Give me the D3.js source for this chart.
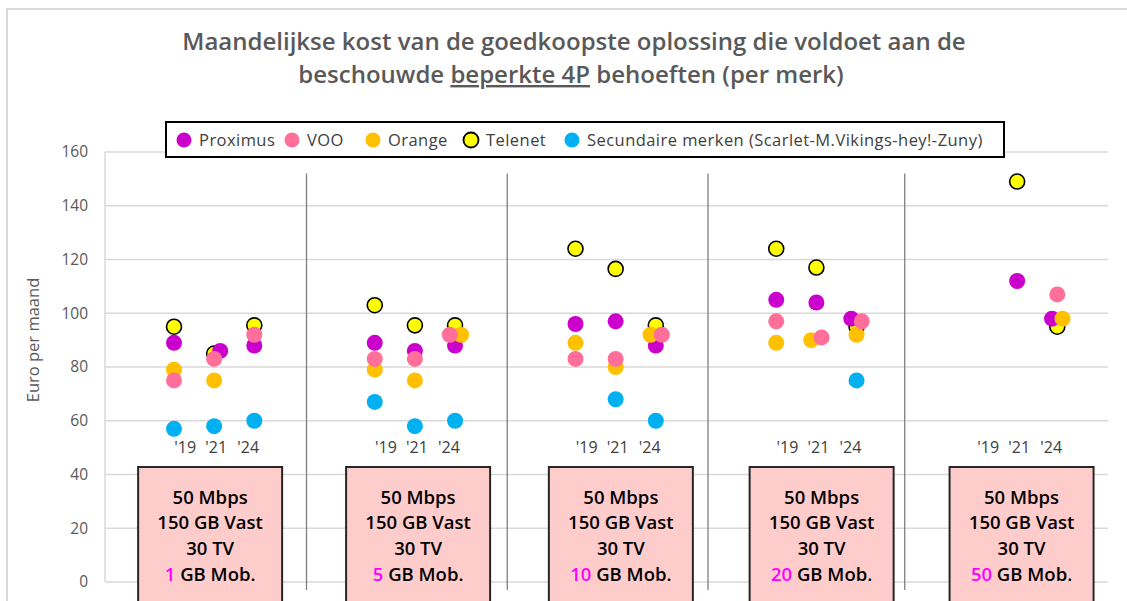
<!DOCTYPE html>
<html>
<head>
<meta charset="utf-8">
<script src="https://cdn.jsdelivr.net/npm/d3@7"></script>
<style>
  body { margin: 0; background: #fff; }
  svg { display: block; font-family: "Open Sans", Lato, sans-serif; }
</style>
</head>
<body>
<svg id="chart" width="1127" height="601"></svg>
<script>
// groups (mobile data volume) and years
var groups = ["1", "5", "10", "20", "50"];
var years = ["'19", "'21", "'24"];
var yTicks = [0, 20, 40, 60, 80, 100, 120, 140, 160];

// each point: [slot, value]; slot = 5*group + yearIndex (small fraction = offset as in the source)
var telenet = [[0, 95], [1, 85], [2, 95.5], [5, 103], [6, 95.5], [7, 95.5], [10, 124], [11, 116.5], [12, 95.5], [15, 124], [16, 117], [17, 95], [21, 149], [22, 95]];
var proximus = [[0, 89], [1.15, 86], [2, 88], [5, 89], [6, 86], [7, 88], [10, 96], [11, 97], [12, 88], [15, 105], [16, 104], [16.87, 98], [21, 112], [21.87, 98]];
var orange = [[0, 79], [1, 75], [5, 79], [6, 75], [7.15, 92], [10, 89], [11, 80], [11.87, 92], [15, 89], [15.87, 90], [17, 92], [22.13, 98]];
var voo = [[0, 75], [1, 83], [2, 92], [5, 83], [6, 83], [6.87, 92], [10, 83], [11, 83], [12.15, 92], [15, 97], [16.13, 91], [17.13, 97], [22, 107]];
var secundaire = [[0, 57], [1, 58], [2, 60], [5, 67], [6, 58], [7, 60], [11, 68], [12, 60], [17, 75]];

var series = [
  { name: "Proximus", color: "#CC00CC", data: proximus, stroke: false },
  { name: "VOO", color: "#FF6F99", data: voo, stroke: false },
  { name: "Orange", color: "#FFC000", data: orange, stroke: false },
  { name: "Telenet", color: "#FFFF00", data: telenet, stroke: true },
  { name: "Secundaire merken (Scarlet-M.Vikings-hey!-Zuny)", color: "#00B0F0", data: secundaire, stroke: false }
];
// drawing order (bottom to top)
var drawOrder = ["Telenet", "Proximus", "Orange", "VOO", "Secundaire merken (Scarlet-M.Vikings-hey!-Zuny)"];
var sepSlots = [3.3, 8.3, 13.3, 18.2];
var boxSlots = [0.9, 6.08, 11.13, 16.13, 21.11];

var svg = d3.select("#chart");
var plotLeft = 105, plotRight = 1108;

var x = d3.scaleLinear().domain([0, 22]).range([174, 174 + 22 * 40.15]);
var y = d3.scaleLinear().domain([0, 160]).range([582, 152]);

// outer frame
svg.append("rect").attr("x", 7).attr("y", 9).attr("width", 1140).attr("height", 620)
  .attr("fill", "none").attr("stroke", "#d9d9d9").attr("stroke-width", 2);

// title
var title = svg.append("text").attr("text-anchor", "middle").attr("fill", "#595959")
  .attr("font-size", 24).attr("font-weight", 600);
title.append("tspan").attr("x", 574).attr("y", 50)
  .text("Maandelijkse kost van de goedkoopste oplossing die voldoet aan de");
var t2 = title.append("tspan").attr("x", 571).attr("y", 83);
t2.append("tspan").text("beschouwde ");
t2.append("tspan").attr("text-decoration", "underline").text("beperkte 4P");
t2.append("tspan").text(" behoeften (per merk)");

// gridlines
svg.append("g").selectAll("line").data(yTicks).join("line")
  .attr("x1", plotLeft).attr("x2", plotRight)
  .attr("y1", function (d) { return y(d); }).attr("y2", function (d) { return y(d); })
  .attr("stroke", "#d9d9d9").attr("stroke-width", 1.5);
svg.append("line").attr("x1", plotLeft).attr("x2", plotLeft).attr("y1", y(160)).attr("y2", y(0))
  .attr("stroke", "#d9d9d9").attr("stroke-width", 1.5);

// y axis
var yAxis = svg.append("g").attr("transform", "translate(" + plotLeft + ",0)")
  .call(d3.axisLeft(y).tickValues(yTicks).tickSize(0).tickPadding(17));
yAxis.select(".domain").remove();
yAxis.selectAll("text").attr("font-size", 15.5).attr("fill", "#595959")
  .attr("font-family", "'Open Sans', Lato, sans-serif");

svg.append("text").attr("transform", "translate(39,340) rotate(-90)")
  .attr("text-anchor", "middle").attr("font-size", 16.5).attr("fill", "#595959")
  .text("Euro per maand");

// separators
svg.append("g").selectAll("line").data(sepSlots).join("line")
  .attr("x1", function (d) { return x(d); }).attr("x2", function (d) { return x(d); })
  .attr("y1", y(152)).attr("y2", y(-3))
  .attr("stroke", "#7f7f7f").attr("stroke-width", 1.3);

// year labels
var yearOffsets = [-31, 0, 32];
groups.forEach(function (g, gi) {
  svg.append("g").selectAll("text").data(years).join("text")
    .attr("x", function (d, i) { return x(gi * 5 + 1) + 2 + yearOffsets[i]; })
    .attr("y", 453).attr("text-anchor", "middle")
    .attr("font-size", 16).attr("fill", "#404040")
    .text(function (d) { return d; });
});

// points
var byName = {};
series.forEach(function (s) { byName[s.name] = s; });
drawOrder.forEach(function (n) {
  var s = byName[n];
  svg.append("g").selectAll("circle").data(s.data).join("circle")
    .attr("cx", function (d) { return x(d[0]); })
    .attr("cy", function (d) { return y(d[1]); })
    .attr("r", s.stroke ? 7.5 : 8)
    .attr("fill", s.color)
    .attr("stroke", s.stroke ? "#000" : "none")
    .attr("stroke-width", 1.6);
});

// boxes
var boxW = 144;
var box = svg.append("g").selectAll("g").data(groups).join("g")
  .attr("transform", function (d, i) { return "translate(" + x(boxSlots[i]) + ",0)"; });
box.append("rect").attr("x", -boxW / 2).attr("y", 467).attr("width", boxW).attr("height", 160)
  .attr("fill", "#FFCCCC").attr("stroke", "#262626").attr("stroke-width", 2);
var bt = box.append("text").attr("text-anchor", "middle").attr("font-size", 18.5)
  .attr("font-weight", 600).attr("fill", "#000");
bt.append("tspan").attr("x", 0).attr("y", 504).text("50 Mbps");
bt.append("tspan").attr("x", 0).attr("y", 529).text("150 GB Vast");
bt.append("tspan").attr("x", 0).attr("y", 555).text("30 TV");
var last = bt.append("tspan").attr("x", 0).attr("y", 581);
last.append("tspan").attr("fill", "#FF00FF").text(function (d) { return d; });
last.append("tspan").text(" GB Mob.");

// legend
var lg = svg.append("g");
lg.append("rect").attr("x", 166).attr("y", 122).attr("width", 838).attr("height", 35)
  .attr("fill", "#fff").attr("stroke", "#000").attr("stroke-width", 2);
var legX = [184, 292, 373, 471, 572];
var item = lg.selectAll("g").data(series).join("g")
  .attr("transform", function (d, i) { return "translate(" + legX[i] + ",140)"; });
item.append("circle").attr("r", 7.5)
  .attr("fill", function (d) { return d.color; })
  .attr("stroke", function (d) { return d.stroke ? "#000" : "none"; })
  .attr("stroke-width", 1.8);
item.append("text").attr("x", 15).attr("y", 6).attr("font-size", 16.5).attr("fill", "#404040")
  .attr("letter-spacing", 0.45)
  .text(function (d) { return d.name; });
</script>
</body>
</html>
